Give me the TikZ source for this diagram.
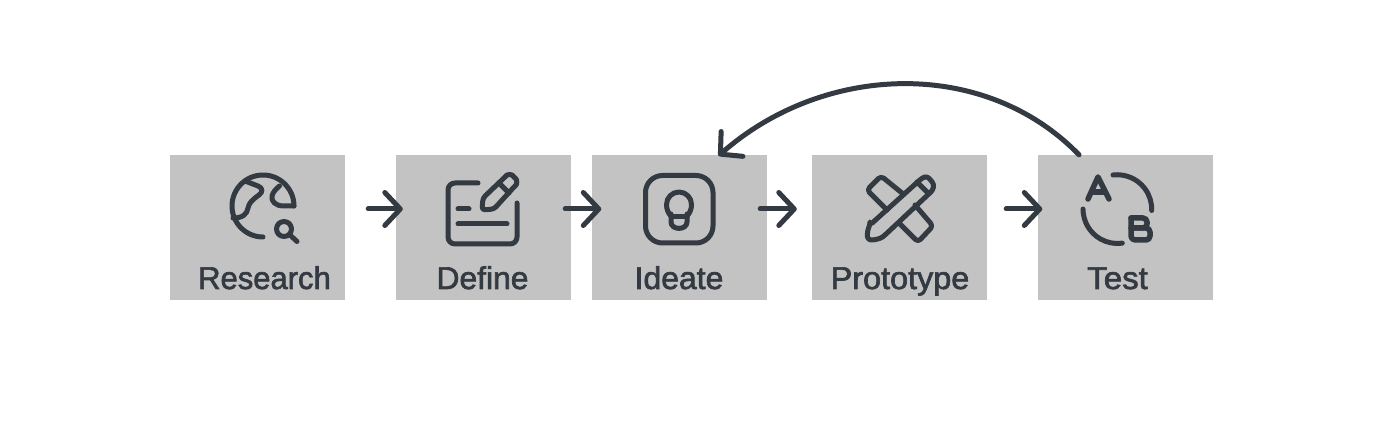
\documentclass[tikz,border=0pt]{standalone}
\usepackage{fontspec}
\usepackage{graphicx}
\usetikzlibrary{arrows.meta}
\newfontfamily\lblfont{Liberation Sans}[FakeBold=2]
\definecolor{ink}{HTML}{343A42}
\definecolor{boxgray}{HTML}{C3C3C3}
\tikzset{
  stepbox/.style={fill=boxgray,draw=none,inner sep=0pt,minimum width=175pt,minimum height=145pt},
  steplabel/.style={text=ink,font=\lblfont\fontsize{31.5}{33}\selectfont,inner sep=0pt,anchor=base},
  icon/.style={draw=ink,line width=5pt,line cap=round,line join=round,fill=none},
  flow/.style={draw=ink,line width=5pt,line cap=round,line join=round,-{Straight Barb[length=15.5pt,width=33pt,round]}},
}
\begin{document}
\begin{tikzpicture}[x=1pt,y=-1pt]
\useasboundingbox[fill=white] (0,0) rectangle (1382,430);
\node[stepbox] (research) at (257.5,227.5) {};
\node[stepbox] (define) at (483.5,227.5) {};
\node[stepbox] (ideate) at (679.5,227.5) {};
\node[stepbox] (prototype) at (899.5,227.5) {};
\node[stepbox] (test) at (1125.5,227.5) {};
\node[steplabel] (lresearch) at (264.5,289) {\scalebox{0.984}[1]{Research}};
\node[steplabel] (ldefine) at (482.5,289) {\scalebox{1.01}[1]{Define}};
\node[steplabel] (lideate) at (679,289) {\scalebox{1.014}[1]{Ideate}};
\node[steplabel] (lprototype) at (900,289) {\scalebox{1.028}[1]{Prototype}};
\node[steplabel] (ltest) at (1117.5,289) {\scalebox{1.05}[1]{Test}};
% connectors
\draw[flow] ([shift={(23,-18.5)}]research.east) -- ([shift={(7,-18.5)}]define.west);
\draw[flow] ([shift={(-6,-18.5)}]define.east) -- ([shift={(9.5,-18.5)}]ideate.west);
\draw[flow] ([shift={(-7,-18.5)}]ideate.east) -- ([shift={(-15,-18.5)}]prototype.west);
\draw[flow] ([shift={(19,-18.5)}]prototype.east) -- ([shift={(4.5,-18.5)}]test.west);
\draw[flow] ([xshift=-46.5pt]test.north) .. controls +(-94,-97) and +(106,-93) .. ([shift={(39,1)}]ideate.north);
% Research icon
\draw[icon] (263,237) arc[start angle=90,end angle=360,radius=31];
\draw[icon] (294,206) -- (284,206) .. controls (275,206) and (271,201) .. (272,196) .. controls (273,192) and (276,189) .. (279.5,186);
\draw[icon] (245,181) -- (258,186) .. controls (263,188) and (263,192) .. (259,195) .. controls (252,200) and (249,203) .. (248,208) .. controls (247,214) and (243,218) .. (233,218);
\draw[icon] (284,229) circle[radius=7.5];
\draw[icon] (290,235) -- (297,241.5);
% Define icon
\draw[icon,rounded corners=7pt] (478,183) -- (448,183) -- (448,244) -- (517,244) -- (517,203);
\draw[icon] (458,209) -- (469,209);
\draw[icon] (458,224) -- (507,224);
\draw[icon,rounded corners=3pt] (482,210) -- (483,198) -- (505,177) .. controls (508,174) and (512,175) .. (514,177) .. controls (517,180) and (517,184) .. (514,187) -- (494,209) -- cycle;
\draw[icon] (499,183) -- (509,193);
% Ideate icon
\draw[icon,rounded corners=17pt] (645.5,175.5) rectangle (713,243);
\draw[icon] (671,216) .. controls (668,213) and (666.5,209) .. (666.5,204.5) arc[start angle=180,end angle=360,radius=12.5] .. controls (691.5,209) and (690,213) .. (687,216);
\draw[icon] (671,217) -- (687,217);
\draw[icon] (671,214) -- (671,222) .. controls (671,230.5) and (687,230.5) .. (687,222) -- (687,214);
% Prototype icon
\draw[icon,rounded corners=3.5pt] (902,193) -- (881,176) -- (867,190) -- (887,210);
\draw[icon,rounded corners=3.5pt] (915,205) -- (933,226) -- (918,242) -- (900,224);
\draw[icon,rounded corners=3pt] (870,225) -- (922,178) -- (927,176) -- (934,184) -- (933,190) -- (885,235) .. controls (880,239) and (874,240) .. (868,240) .. controls (867,234) and (868,229) .. (870,225) -- cycle;
\draw[icon] (917,182) -- (927,192);
% Test icon
\draw[icon] (1113,175) arc[start angle=-97,end angle=2,radius=34.5];
\draw[icon] (1083,209) arc[start angle=180,end angle=82,radius=34.5];
\draw[icon,line width=5.5pt] (1088,199) -- (1098,177) -- (1109,199);
\draw[icon,line width=5.5pt] (1092,192) -- (1105,192);
\draw[icon,line width=5.5pt,rounded corners=4pt] (1131,218) -- (1147,218) -- (1147,228) -- (1131,228);
\draw[icon,line width=5.5pt,rounded corners=4pt] (1131,218) -- (1131,240) -- (1150,240) -- (1150,228) -- (1131,228);
\end{tikzpicture}
\end{document}
